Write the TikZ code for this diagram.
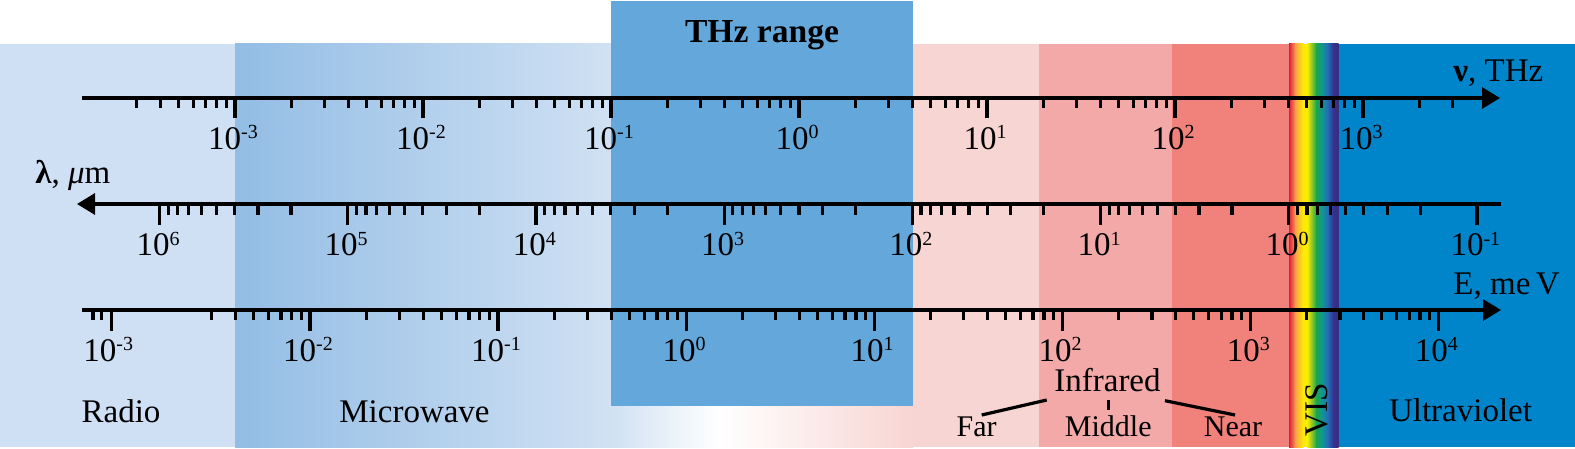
\documentclass[tikz,border=0pt]{standalone}
\usepackage{fontspec}
\setmainfont{Liberation Serif}
\usetikzlibrary{arrows.meta}
\definecolor{radioC}{HTML}{CFDFF4}
\definecolor{mwL}{HTML}{93BDE5}
\definecolor{mwR}{HTML}{D0E1F3}
\definecolor{thzC}{HTML}{64A8DB}
\definecolor{farC}{HTML}{F7D5D2}
\definecolor{midC}{HTML}{F3A9A8}
\definecolor{nearC}{HTML}{F0827B}
\definecolor{uvC}{HTML}{0085CA}
\definecolor{rbRed}{HTML}{E31B3F}
\definecolor{rbOrange}{HTML}{F7A04A}
\definecolor{rbYellow}{HTML}{FFEC00}
\definecolor{rbGreen}{HTML}{1DA54C}
\definecolor{rbTeal}{HTML}{109A8A}
\definecolor{rbBlue}{HTML}{2270B8}
\definecolor{rbIndigo}{HTML}{333391}
\definecolor{rbViolet}{HTML}{3A2C7C}
\newcommand{\tenpow}[1]{10\raisebox{5.2pt}{\fontsize{10pt}{10pt}\selectfont #1}}
\begin{document}
\begin{tikzpicture}[x=0.5pt,y=-0.5pt,
  axisline/.style={line width=1.6pt},
  tickmark/.style={line width=1.6pt},
  conn/.style={line width=1.6pt},
  ticklabel/.style={font=\fontsize{16.5pt}{19pt}\selectfont, inner sep=0pt, anchor=base},
  bandlabel/.style={font=\fontsize{16.5pt}{19pt}\selectfont, inner sep=0pt, anchor=base},
  irlabel/.style={font=\fontsize{15pt}{18pt}\selectfont, inner sep=0pt, anchor=base},
  axisname/.style={font=\fontsize{16.5pt}{19pt}\selectfont, inner sep=0pt, anchor=base west},
  headR/.style={-{Triangle[length=9pt,width=10.5pt]}},
  headL/.style={{Triangle[length=9pt,width=10.5pt]}-}]
\useasboundingbox (0,0) rectangle (1575,449);
% ---------- background bands ----------
\fill[radioC] (0,44) rectangle (235,447);
\shade[left color=mwL, right color=mwR] (235,44) rectangle (611,447);
\shade[left color=mwR, right color=white] (611,44) rectangle (720,447);
\shade[left color=white, right color=farC] (720,44) rectangle (913,447);
\fill[farC] (913,44) rectangle (1039,447);
\fill[midC] (1039,44) rectangle (1172,447);
\fill[nearC] (1172,44) rectangle (1289,447);
\fill[uvC] (1338,44) rectangle (1575,447);
% rainbow
\shade[left color=rbRed, right color=rbOrange] (1289,44) rectangle (1295.5,447);
\shade[left color=rbOrange, right color=rbYellow] (1295,44) rectangle (1303.5,447);
\fill[rbYellow] (1303,44) rectangle (1307.5,447);
\shade[left color=rbYellow, right color=rbGreen] (1307,44) rectangle (1316.5,447);
\shade[left color=rbGreen, right color=rbTeal] (1316,44) rectangle (1321.5,447);
\shade[left color=rbTeal, right color=rbBlue] (1321,44) rectangle (1327.5,447);
\shade[left color=rbBlue, right color=rbIndigo] (1327,44) rectangle (1333.5,447);
\shade[left color=rbIndigo, right color=rbViolet] (1333,44) rectangle (1338.5,447);
% THz box
\fill[thzC] (611,1) rectangle (913,406);
\node[font=\fontsize{16.8pt}{19pt}\selectfont\bfseries, inner sep=0pt, anchor=base] (thz) at (762,43) {THz range};
% ---------- nu axis ----------
\coordinate (nuA) at (82,98);
\coordinate (nuB) at (1500,98);
\draw[axisline,headR] (nuA) -- (nuB);
\foreach \m in {3,...,9} \draw[tickmark] ({47+188*log10(\m)},98) -- ++(0,10);
\foreach \k in {0,...,5} \foreach \m in {2,...,9} \draw[tickmark] ({235+188*\k+188*log10(\m)},98) -- ++(0,10);
\foreach \m in {2,3} \draw[tickmark] ({1363+188*log10(\m)},98) -- ++(0,10);
\foreach \k in {0,...,6} \draw[tickmark] ({235+188*\k},98) -- ++(0,20.5);
\foreach \e [count=\k from 0] in {-3,-2,-1,0,1,2,3}
  \node[ticklabel] (nu\k) at ({233+188*\k},149) {\tenpow{\e}};
\node[axisname] (nuname) at (1453,81.7) {{\bfseries ν}, THz};
% ---------- lambda axis ----------
\coordinate (laA) at (77,204);
\coordinate (laB) at (1501,204);
\draw[axisline,headL] (laA) -- (laB);
\foreach \k in {0,...,6} \foreach \m in {2,...,9} \draw[tickmark] ({159.5+188.2*(\k+1)-188.2*log10(\m)},204) -- ++(0,10.5);
\foreach \k in {0,...,7} \draw[tickmark] ({159.5+188.2*\k},204) -- ++(0,21);
\foreach \e [count=\k from 0] in {6,5,4,3,2,1,0,-1}
  \node[ticklabel] (la\k) at ({158+188.2*\k},256) {\tenpow{\e}};
\node[axisname] (laname) at (35,184) {{\bfseries λ}, {\itshape μ}m};
% ---------- E axis ----------
\coordinate (eA) at (82,310);
\coordinate (eB) at (1501,310);
\draw[axisline,headR] (eA) -- (eB);
\foreach \x in {93,101.7} \draw[tickmark] (\x,310) -- ++(0,10);
\draw[tickmark] (111.7,310) -- ++(0,21);
\foreach \m in {3,...,9} \draw[tickmark] ({122+188.05*log10(\m)},310) -- ++(0,10);
\foreach \k in {0,...,5} \foreach \m in {2,...,9} \draw[tickmark] ({310+188.05*\k+188.05*log10(\m)},310) -- ++(0,10);
\foreach \k in {0,...,6} \draw[tickmark] ({310+188.05*\k},310) -- ++(0,21);
\node[ticklabel] (eM3) at (108.3,361) {\tenpow{-3}};
\foreach \e [count=\k from 0] in {-2,-1,0,1,2,3,4}
  \node[ticklabel] (e\k) at ({308+188.05*\k},361) {\tenpow{\e}};
\node[axisname] (ename) at (1453,294) {E, me\,V};
% ---------- band labels ----------
\node[bandlabel] (radio) at (121,422.3) {Radio};
\node[bandlabel] (micro) at (414.5,422) {Microwave};
\node[bandlabel] (uv) at (1460.5,421.7) {Ultraviolet};
\node[bandlabel, rotate=90, anchor=center] (vis) at (1317,409.5) {VIS};
\node[bandlabel] (ir) at (1107.5,391.7) {Infrared};
\node[irlabel] (far) at (976.7,436.7) {Far};
\node[irlabel] (mid) at (1108.3,436.7) {Middle};
\node[irlabel] (near) at (1233,436.7) {Near};
\coordinate (farA) at (1046.7,400);
\coordinate (farB) at (981.7,415);
\coordinate (midA) at (1108.3,399.5);
\coordinate (midB) at (1108.3,410);
\coordinate (nearA) at (1165,400.7);
\coordinate (nearB) at (1235,415);
\draw[conn] (farA) -- (farB);
\draw[conn] (midA) -- (midB);
\draw[conn] (nearA) -- (nearB);
\end{tikzpicture}
\end{document}
